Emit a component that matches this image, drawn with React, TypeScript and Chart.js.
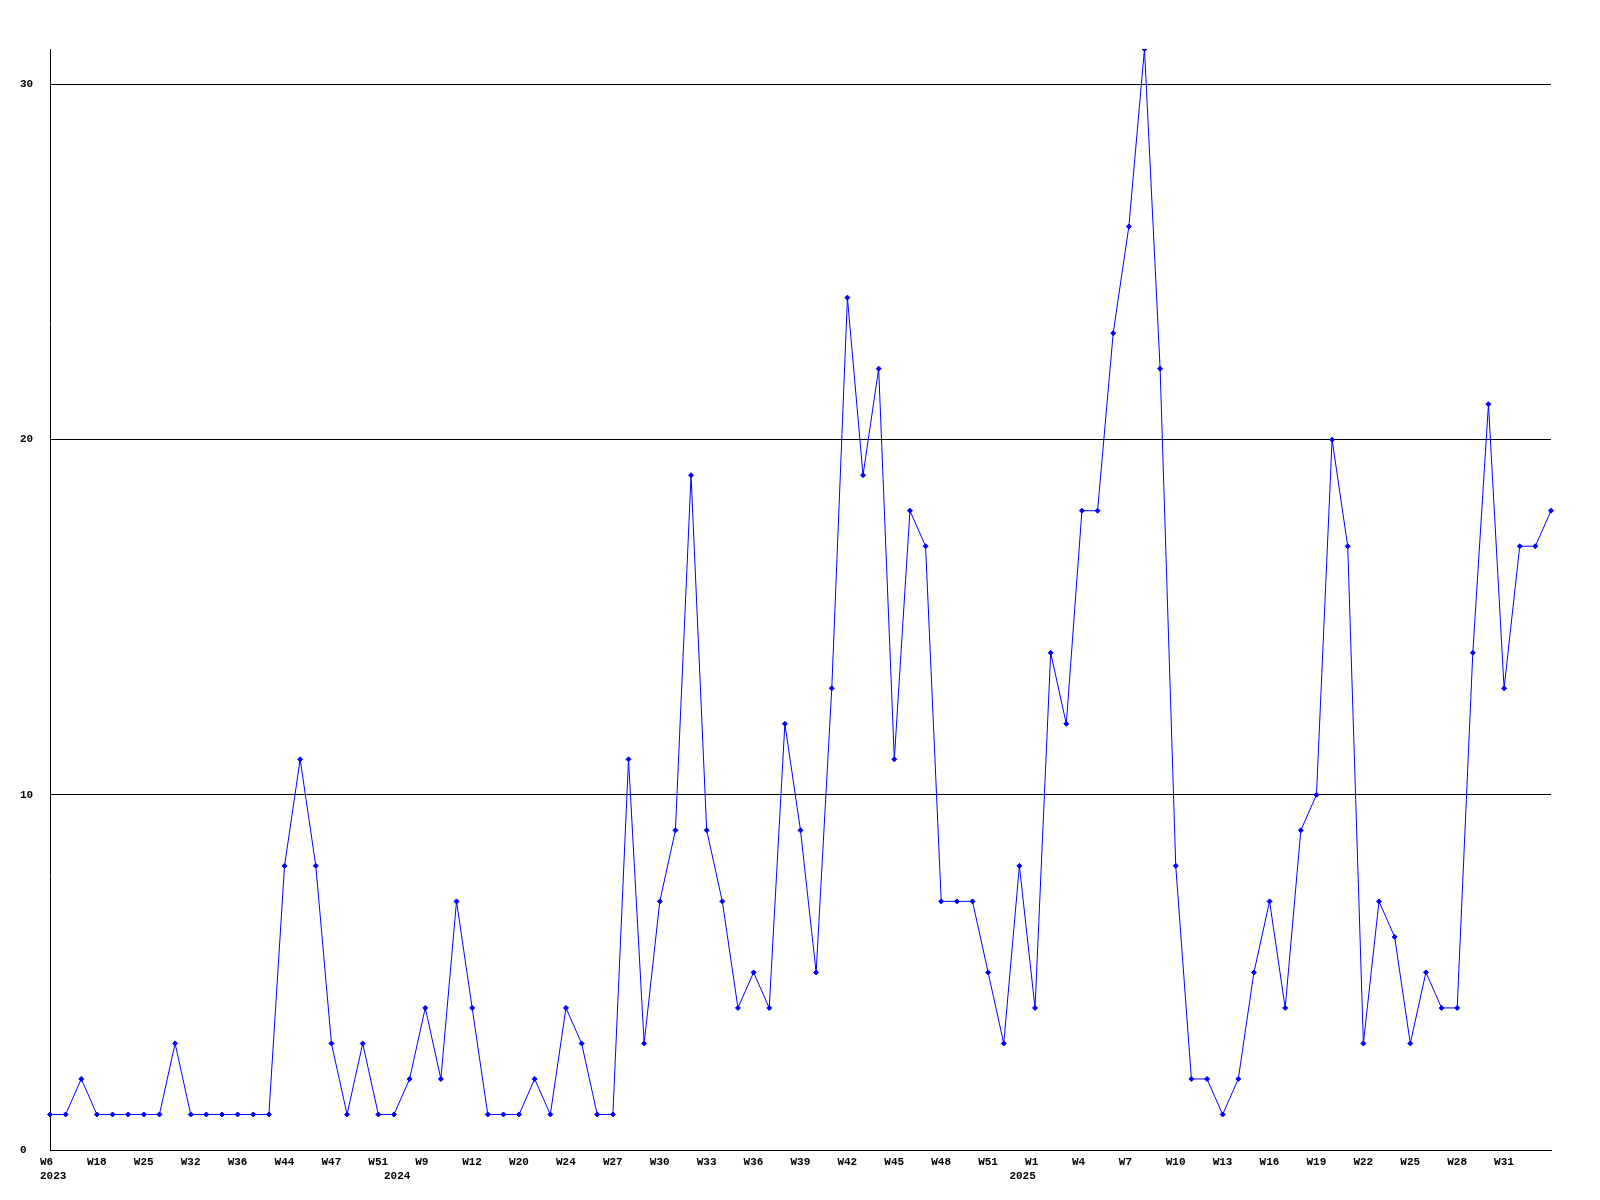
import React, { useEffect, useRef } from 'react';
import { Chart, registerables } from 'chart.js';

Chart.register(...registerables);

// Week categories (one per data point)
const weeks: string[] = [
  'W6', 'W10', 'W14', 'W18', 'W20', 'W23', 'W25', 'W27', 'W30', 'W32',
  'W33', 'W35', 'W36', 'W38', 'W41', 'W44', 'W45', 'W46', 'W47', 'W48',
  'W49', 'W51', 'W2', 'W5', 'W9', 'W10', 'W11', 'W12', 'W14', 'W17',
  'W20', 'W21', 'W23', 'W24', 'W25', 'W26', 'W27', 'W28', 'W29', 'W30',
  'W31', 'W32', 'W33', 'W34', 'W35', 'W36', 'W37', 'W38', 'W39', 'W40',
  'W41', 'W42', 'W43', 'W44', 'W45', 'W46', 'W47', 'W48', 'W49', 'W50',
  'W51', 'W52', 'W53', 'W1', 'W2', 'W3', 'W4', 'W5', 'W6', 'W7',
  'W8', 'W9', 'W10', 'W11', 'W12', 'W13', 'W14', 'W15', 'W16', 'W17',
  'W18', 'W19', 'W20', 'W21', 'W22', 'W23', 'W24', 'W25', 'W26', 'W27',
  'W28', 'W29', 'W30', 'W31', 'W32', 'W33', 'W34',
];

// Weekly counts
const counts: number[] = [
  1, 1, 2, 1, 1, 1, 1, 1, 3, 1,
  1, 1, 1, 1, 1, 8, 11, 8, 3, 1,
  3, 1, 1, 2, 4, 2, 7, 4, 1, 1,
  1, 2, 1, 4, 3, 1, 1, 11, 3, 7,
  9, 19, 9, 7, 4, 5, 4, 12, 9, 5,
  13, 24, 19, 22, 11, 18, 17, 7, 7, 7,
  5, 3, 8, 4, 14, 12, 18, 18, 23, 26,
  31, 22, 8, 2, 2, 1, 2, 5, 7, 4,
  9, 10, 20, 17, 3, 7, 6, 3, 5, 4,
  4, 14, 21, 13, 17, 17, 18,
];

// Year captions, placed under the first data point of each year
const yearStartIndex: number[] = [0, 22, 62];
const yearNames: string[] = ['2023', '2024', '2025'];

const LABEL_EVERY = 3;
const LAST_LABEL_INDEX = 93;
const Y_MAX = 31;
const Y_STEP = 10;

export default function App() {
  const ref = useRef<HTMLCanvasElement>(null);

  useEffect(() => {
    if (!ref.current) return;
    const font = {
      family: '"Liberation Mono", "DejaVu Sans Mono", monospace',
      size: 11,
      weight: 'bold' as const,
      lineHeight: 1.3,
    };
    const chart = new Chart(ref.current, {
      type: 'line',
      data: {
        labels: weeks,
        datasets: [
          {
            data: counts,
            borderColor: '#0000ff',
            backgroundColor: '#0000ff',
            borderWidth: 1,
            pointStyle: 'rectRot',
            pointRadius: 2.5,
            pointBorderWidth: 1,
            pointBorderColor: '#0000ff',
            pointBackgroundColor: '#0000ff',
            tension: 0,
            fill: false,
          },
        ],
      },
      options: {
        animation: false,
        responsive: false,
        maintainAspectRatio: false,
        devicePixelRatio: 1,
        layout: { padding: { left: 20, top: 49, right: 49, bottom: 0 } },
        plugins: {
          legend: { display: false },
          tooltip: { enabled: false },
          title: { display: false },
        },
        scales: {
          x: {
            type: 'category',
            offset: false,
            grid: { display: false, drawTicks: false },
            border: { display: true, color: '#000000', width: 1 },
            ticks: {
              autoSkip: false,
              maxRotation: 0,
              minRotation: 0,
              align: 'start',
              labelOffset: -10,
              padding: 5,
              color: '#000000',
              font,
              callback: (_v: any, i: number) => {
                const showWeek = i % LABEL_EVERY === 0 && i <= LAST_LABEL_INDEX;
                const y = yearStartIndex.indexOf(i);
                const week = showWeek ? weeks[i] : '';
                if (y >= 0) return [week, yearNames[y]];
                return week;
              },
            },
            afterFit: (s: any) => {
              s.height = 50;
            },
          },
          y: {
            min: 0,
            max: Y_MAX,
            grid: { color: '#000000', lineWidth: 1, drawTicks: false },
            border: { display: true, color: '#000000', width: 1 },
            ticks: {
              stepSize: Y_STEP,
              includeBounds: false,
              crossAlign: 'far',
              padding: 0,
              color: '#000000',
              font,
            },
            afterFit: (s: any) => {
              s.width = 30;
            },
          },
        },
      },
    });
    return () => chart.destroy();
  }, []);

  return (
    <div
      style={{
        position: 'absolute',
        left: 0,
        top: 0,
        width: 1600,
        height: 1200,
        background: '#ffffff',
      }}
    >
      <canvas ref={ref} width={1600} height={1200} style={{ width: 1600, height: 1200, display: 'block' }} />
    </div>
  );
}
